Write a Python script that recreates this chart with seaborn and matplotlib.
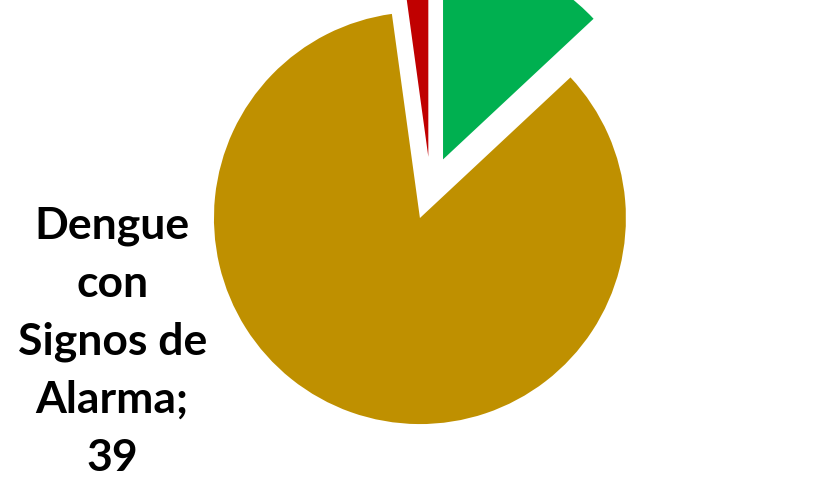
import matplotlib
matplotlib.use("Agg")
import matplotlib.pyplot as plt
import seaborn as sns

categories = ["Dengue sin Signos de Alarma", "Dengue con Signos de Alarma", "Dengue Grave"]
values = [6, 39, 1]
colors = ["#00B050", "#BF9000", "#C00000"]

sns.set_theme(style="white")
plt.rcParams['font.family'] = ['Lato', 'DejaVu Sans']

fig = plt.figure(figsize=(8.21, 4.91), dpi=100)
ax = fig.add_axes([0, 0, 1, 1])
wedges, _ = ax.pie(values, colors=colors, startangle=90, counterclock=False,
                   explode=[0.153] * len(values), radius=1.0,
                   wedgeprops=dict(linewidth=0))
ax.set_aspect('auto')
ax.set_xlim(-2.090, 1.896)
ax.set_ylim(-1.469, 0.914)
ax.axis('off')

label = "Dengue\ncon\nSignos de\nAlarma;\n" + str(values[1])
ax.text(-1.545, -0.745, label, ha='center', va='center', fontsize=32,
        fontweight='bold', color='black', linespacing=1.54)

fig.savefig("out.png", dpi=100)
